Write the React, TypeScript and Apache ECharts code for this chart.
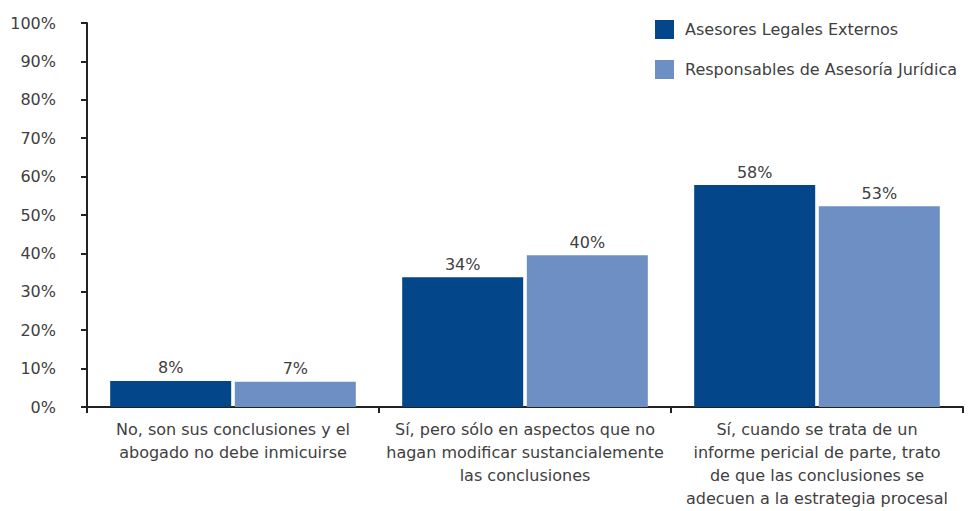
import React, { useEffect, useRef } from "react";
import * as echarts from "echarts";

const categories = [
  "No, son sus conclusiones y el\nabogado no debe inmicuirse",
  "Sí, pero sólo en aspectos que no\nhagan modificar sustancialemente\nlas conclusiones",
  "Sí, cuando se trata de un\ninforme pericial de parte, trato\nde que las conclusiones se\nadecuen a la estrategia procesal",
];
const seriesNames = ["Asesores Legales Externos", "Responsables de Asesoría Jurídica"];
const externosValues = [6.8, 33.8, 57.8];
const externosLabels = ["8%", "34%", "58%"];
const juridicaValues = [6.6, 39.5, 52.3];
const juridicaLabels = ["7%", "40%", "53%"];

const FONT = "DejaVu Sans";
const TEXT = "#404040";

export default function App() {
  const ref = useRef<HTMLDivElement>(null);
  useEffect(() => {
    if (!ref.current) return;
    const chart = echarts.init(ref.current, undefined, { renderer: "svg" });
    const mk = (name: string, vals: number[], labels: string[], color: string) => ({
      name,
      type: "bar",
      barWidth: 121,
      barGap: "3%",
      data: vals,
      itemStyle: { color },
      label: {
        show: true,
        position: "top",
        distance: 5,
        fontFamily: FONT,
        fontSize: 16,
        color: TEXT,
        formatter: (p: any) => labels[p.dataIndex],
      },
    });
    chart.setOption({
      animation: false,
      textStyle: { fontFamily: FONT },
      grid: { left: 87, right: 10, top: 23, bottom: 104, containLabel: false, outerBoundsMode: "none" },
      legend: {
        orient: "vertical",
        left: 650,
        top: 15,
        itemWidth: 19,
        itemHeight: 19,
        itemGap: 21,
        icon: "rect",
        textStyle: { fontFamily: FONT, fontSize: 16, color: TEXT, padding: [0, 0, 0, 6] },
        data: seriesNames,
      },
      xAxis: {
        type: "category",
        data: categories,
        axisLine: { lineStyle: { color: "#222", width: 2 } },
        axisTick: { show: true, length: 6, alignWithLabel: false, lineStyle: { color: "#222", width: 2 } },
        axisLabel: {
          interval: 0,
          margin: 11,
          fontFamily: FONT,
          fontSize: 16,
          lineHeight: 23,
          color: TEXT,
          align: "center",
        },
      },
      yAxis: {
        type: "value",
        min: 0,
        max: 100,
        interval: 10,
        splitLine: { show: false },
        axisLine: { show: true, lineStyle: { color: "#222", width: 2 } },
        axisTick: { show: true, length: 6, lineStyle: { color: "#222", width: 2 } },
        axisLabel: {
          formatter: "{value}%",
          margin: 31,
          fontFamily: FONT,
          fontSize: 16,
          color: TEXT,
        },
      },
      series: [
        mk(seriesNames[0], externosValues, externosLabels, "#03468A"),
        mk(seriesNames[1], juridicaValues, juridicaLabels, "#6E8FC4"),
      ],
    });
    return () => chart.dispose();
  }, []);
  return <div ref={ref} style={{ width: 973, height: 511, position: "absolute", left: 0, top: 0 }} />;
}
